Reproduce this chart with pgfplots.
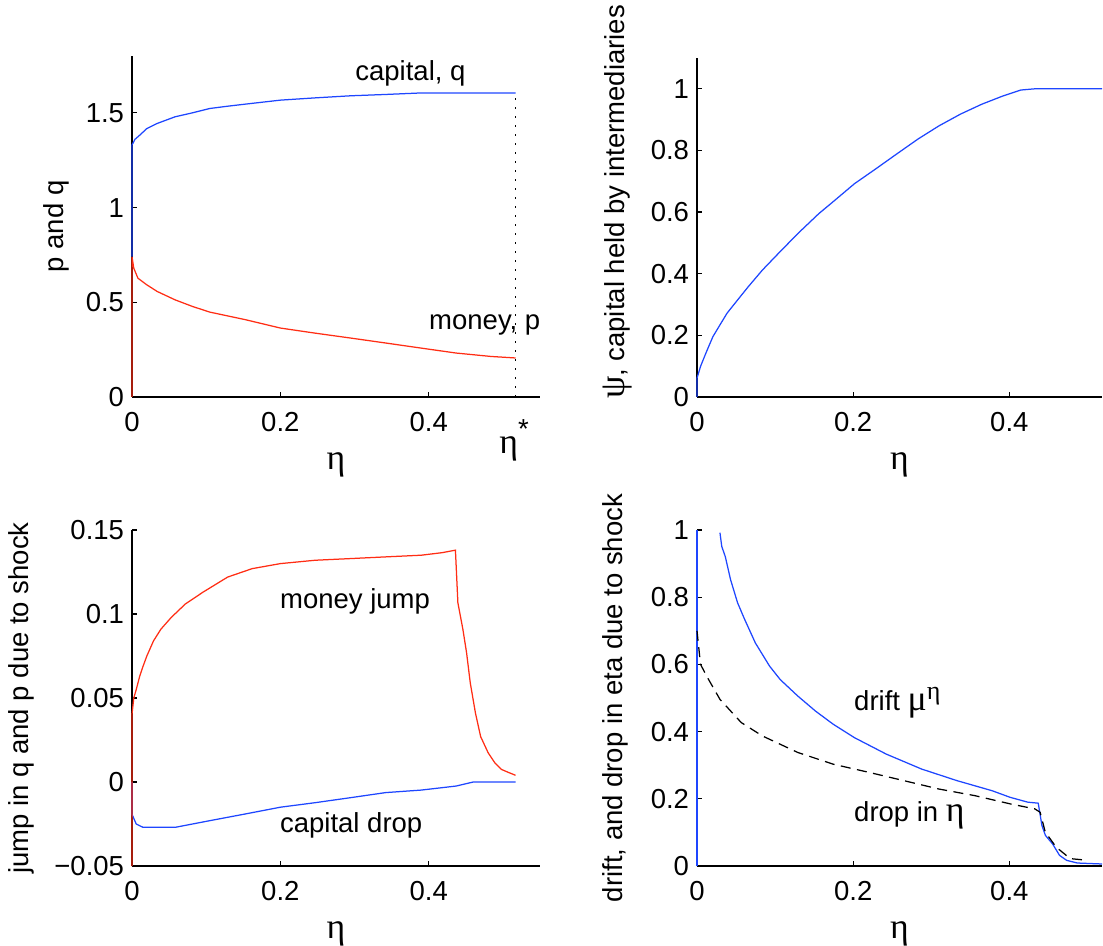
\documentclass[border=0pt]{standalone}
\usepackage{fontspec}
\setmainfont{Liberation Sans}
\newfontfamily\gk[Scale=1.3]{Liberation Serif}
\usepackage{pgfplots}
\pgfplotsset{compat=1.18}
\definecolor{mblue}{RGB}{30,70,255}
\definecolor{mred}{RGB}{255,45,20}

\tikzset{txt/.style={anchor=west, inner sep=0pt, font=\fontsize{11}{13}\selectfont}}
\pgfplotsset{mstyle/.style={
  scale only axis, axis lines=left, axis line style={-, line width=0.6pt},
  tick align=inside, major tick length=2pt, tick style={black, line width=0.5pt},
  clip=false, xmin=0, ymin=0,
  font=\fontsize{11}{13}\selectfont,
  /pgf/number format/assume math mode=true,
  xtick={0,0.2,0.4},
  xticklabel style={inner sep=0pt, yshift=-6pt},
  yticklabel style={inner sep=0pt, xshift=-3pt},
  xlabel={\gk η},
  xlabel style={at={(axis description cs:0.5,0)}, anchor=north, inner sep=0pt, yshift=-22pt},
  ylabel style={anchor=south, inner sep=0pt},
  every axis plot/.append style={line width=0.5pt, no marks},
}}

\begin{document}
\begin{tikzpicture}
\useasboundingbox (0,0) rectangle (441.2pt,378pt);

% top left: prices
\begin{axis}[mstyle, at={(52.8pt,219.2pt)}, anchor=south west,
  width=163.2pt, height=136.4pt, xmax=0.55, ymax=1.8,
  ytick={0,0.5,1,1.5}, ylabel={p and q},
  ylabel style={at={(axis description cs:-0.152,0.5)}}]
\addplot[mred] coordinates {(0,0) (0,0.741) (0.0024,0.68) (0.008,0.627) (0.02,0.592)
  (0.034,0.557) (0.058,0.513) (0.0815,0.478) (0.105,0.448) (0.153,0.408) (0.2,0.364)
  (0.247,0.337) (0.295,0.311) (0.342,0.285) (0.39,0.258) (0.437,0.232) (0.484,0.214) (0.517,0.206)};
\addplot[mblue] coordinates {(0,0.741) (0,1.33) (0.004,1.36) (0.0104,1.382) (0.02,1.417) (0.034,1.444)
  (0.058,1.479) (0.0815,1.5) (0.105,1.523) (0.129,1.535) (0.153,1.546) (0.2,1.567)
  (0.247,1.579) (0.295,1.59) (0.342,1.597) (0.39,1.605) (0.517,1.605)};
\addplot[black, line width=0.6pt, dash pattern=on 0.6pt off 3pt] coordinates {(0.517,0) (0.517,1.6)};
\node[txt] at (axis cs:0.3005,1.707) {capital, q};
\node[txt] at (axis cs:0.4,0.381) {money, p};
\node[anchor=north, inner sep=0pt] at (axis cs:0.515,0) [yshift=-9pt] {{\gk η}\raisebox{6pt}{*}};
\end{axis}

% top right: psi
\begin{axis}[mstyle, at={(278.8pt,219.2pt)}, anchor=south west,
  width=162pt, height=135.6pt, xmax=0.5187, ymax=1.1,
  ytick={0,0.2,0.4,0.6,0.8,1}, ylabel={{\gk ψ}, capital held by intermediaries},
  ylabel style={at={(axis description cs:-0.16,0.575)}}]
\addplot[mblue] coordinates {(0,0) (0,0.061) (0.0045,0.099) (0.0113,0.142) (0.0204,0.196)
  (0.0294,0.234) (0.0385,0.272) (0.052,0.315) (0.0657,0.358) (0.0838,0.412) (0.102,0.46)
  (0.129,0.53) (0.156,0.595) (0.174,0.633) (0.2016,0.692) (0.2288,0.74) (0.256,0.789)
  (0.283,0.837) (0.31,0.88) (0.3375,0.918) (0.3647,0.95) (0.392,0.977) (0.4145,0.996)
  (0.4326,1.0) (0.5187,1.0)};
\end{axis}

% bottom left: jumps
\begin{axis}[mstyle, at={(52.8pt,31.6pt)}, anchor=south west,
  width=163.2pt, height=134.4pt, xmax=0.55, ymin=-0.05, ymax=0.15,
  ytick={-0.05,0,0.05,0.1,0.15}, yticklabels={−0.05,0,0.05,0.1,0.15},
  ylabel={jump in q and p due to shock},
  ylabel style={at={(axis description cs:-0.238,0.5)}}]
\addplot[mblue] coordinates {(0,0) (0,-0.0192) (0.0057,-0.025) (0.015,-0.027) (0.058,-0.027)
  (0.105,-0.023) (0.153,-0.019) (0.2,-0.015) (0.247,-0.0123) (0.295,-0.0093) (0.342,-0.0063)
  (0.39,-0.0048) (0.437,-0.0024) (0.46,0) (0.517,0)};
\addplot[mred] coordinates {(0,-0.05) (0,0.0403) (0.0024,0.05) (0.0057,0.055) (0.0104,0.063)
  (0.015,0.069) (0.02,0.075) (0.029,0.084) (0.039,0.091) (0.053,0.098) (0.072,0.106)
  (0.0957,0.113) (0.129,0.122) (0.162,0.127) (0.2,0.13) (0.247,0.132) (0.295,0.133)
  (0.342,0.134) (0.39,0.135) (0.418,0.1365) (0.436,0.138) (0.4393,0.1067) (0.446,0.091)
  (0.451,0.077) (0.456,0.059) (0.463,0.041) (0.47,0.027) (0.48,0.0175) (0.489,0.0115)
  (0.498,0.0075) (0.508,0.0056) (0.517,0.004)};
\node[txt] at (axis cs:0.199,0.1077) {money jump};
\node[txt] at (axis cs:0.199,-0.0256) {capital drop};
\end{axis}

% bottom right: drift and drop
\begin{axis}[mstyle, at={(278.8pt,31.6pt)}, anchor=south west,
  width=162pt, height=134.4pt, xmax=0.5187, ymax=1,
  ytick={0,0.2,0.4,0.6,0.8,1},
  ylabel={drift, and drop in eta due to shock},
  ylabel style={at={(axis description cs:-0.168,0.5)}}]
\addplot[mblue] coordinates {(0,0) (0,1)};
\addplot[mblue] coordinates {(0.0294,0.992) (0.0317,0.951) (0.0362,0.921) (0.043,0.852)
  (0.052,0.783) (0.0612,0.733) (0.0747,0.664) (0.0929,0.595) (0.1065,0.555) (0.129,0.506)
  (0.1518,0.461) (0.1744,0.422) (0.2016,0.382) (0.2424,0.333) (0.2877,0.2885) (0.333,0.254)
  (0.378,0.224) (0.4009,0.2045) (0.4236,0.19) (0.437,0.187) (0.4417,0.1206) (0.4462,0.091)
  (0.4553,0.066) (0.4643,0.0316) (0.4734,0.0168) (0.487,0.0089) (0.5187,0.006)};
\addplot[black, dash pattern=on 4pt off 2.6pt] coordinates {(0,0.7) (0.0045,0.6) (0.0136,0.56)
  (0.0294,0.496) (0.0566,0.427) (0.0838,0.387) (0.129,0.338) (0.1744,0.303) (0.2197,0.279)
  (0.265,0.254) (0.31,0.229) (0.3556,0.2095) (0.4009,0.185) (0.4326,0.17) (0.4394,0.16)
  (0.446,0.101) (0.46,0.056) (0.478,0.022) (0.5,0.017)};
\node[txt] at (axis cs:0.2007,0.486) {drift {\gk μ}\raisebox{4.5pt}{\gk\footnotesize η}};
\node[txt] at (axis cs:0.2007,0.15) {drop in {\gk η}};
\end{axis}
\end{tikzpicture}
\end{document}
